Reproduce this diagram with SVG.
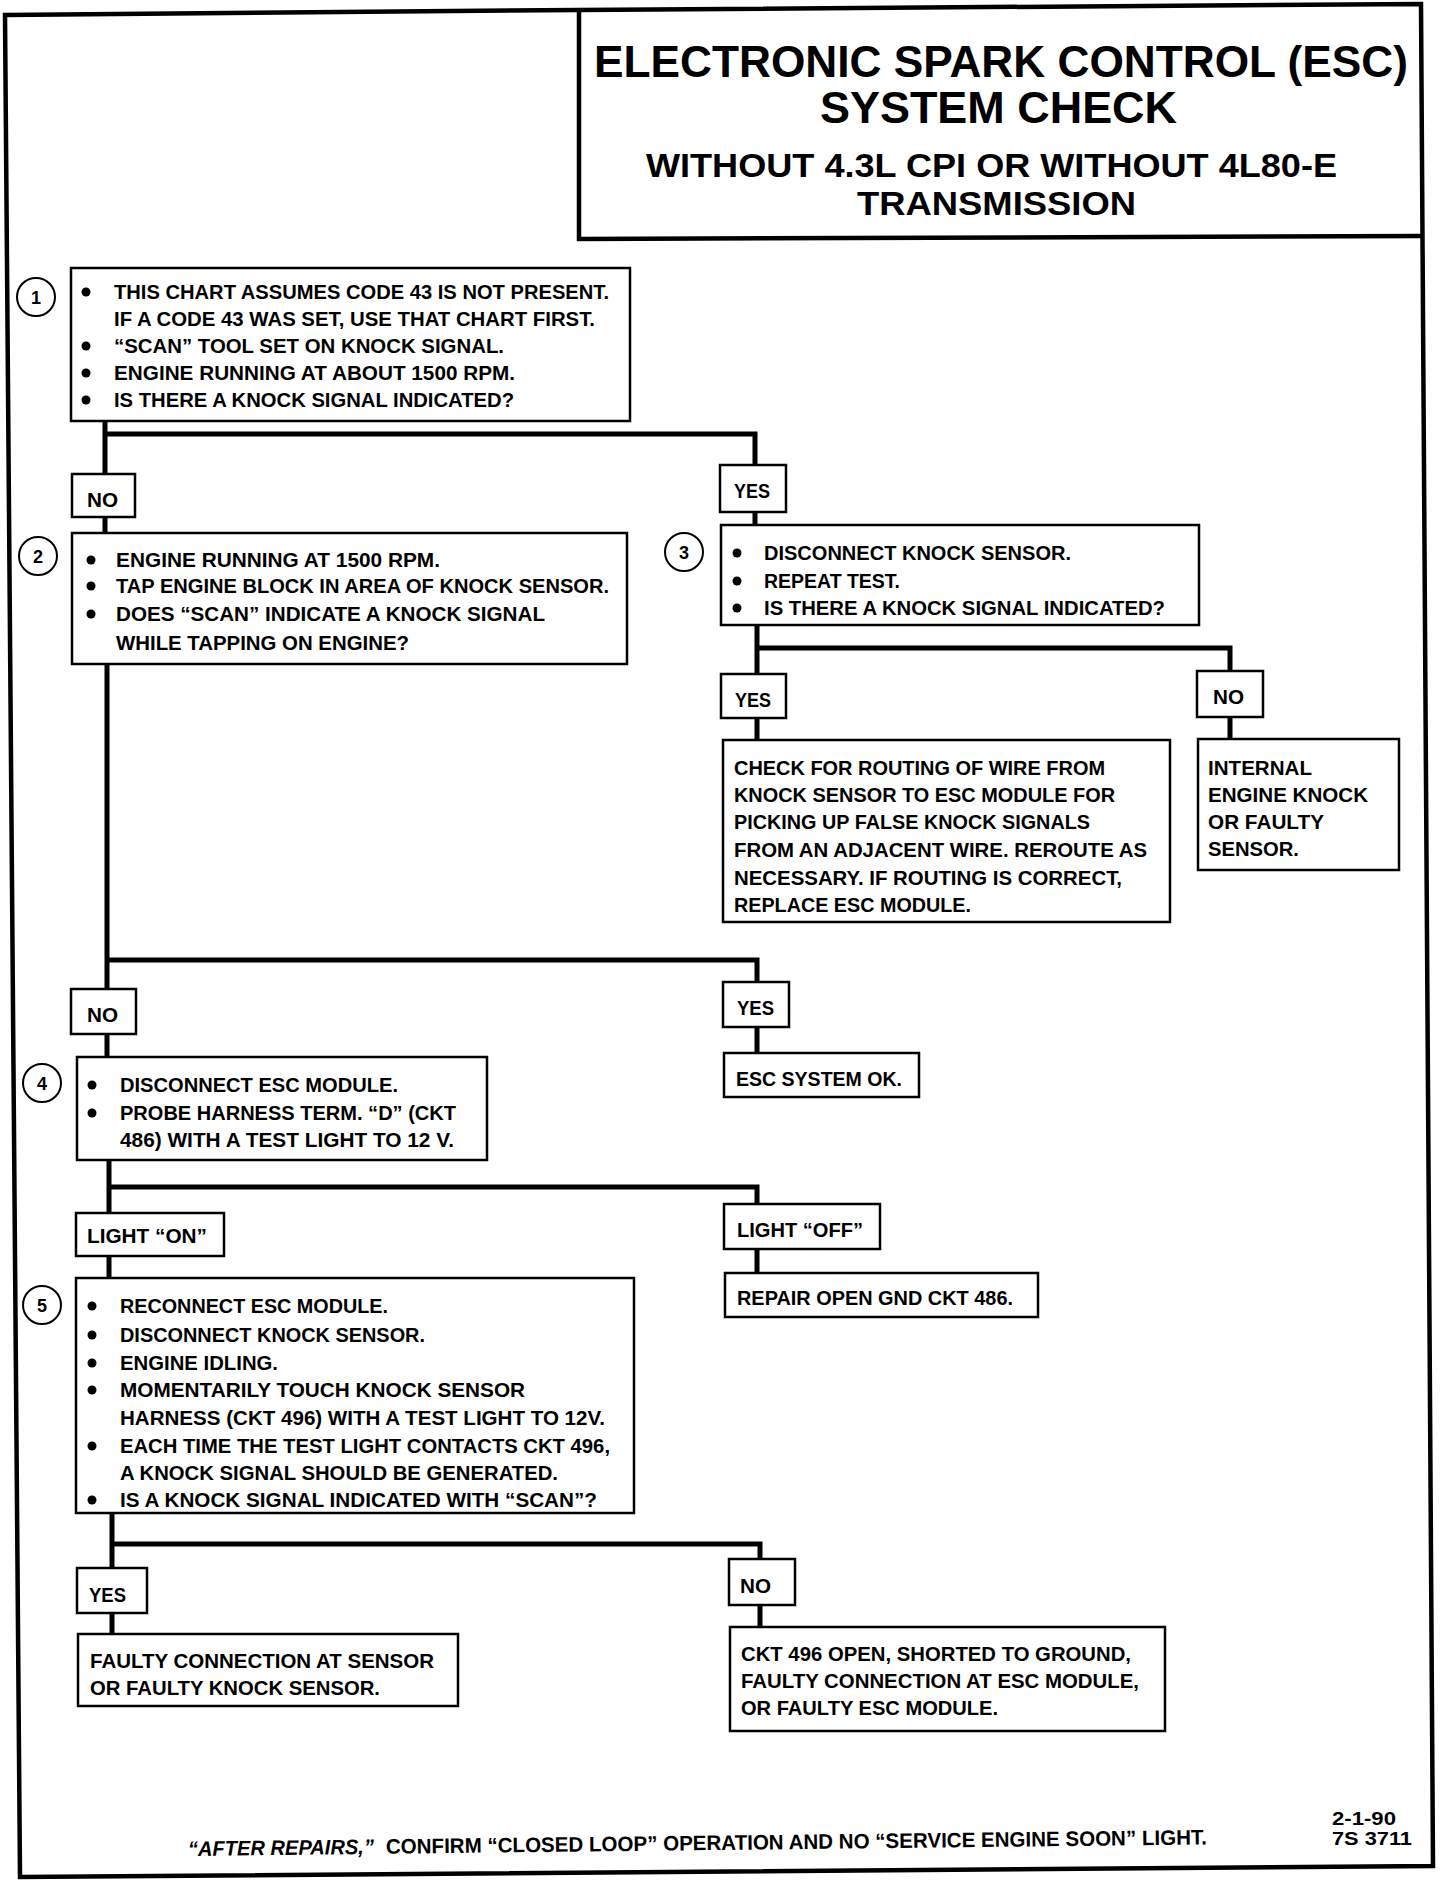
<svg xmlns="http://www.w3.org/2000/svg" width="1456" height="1886" viewBox="0 0 1456 1886">
<style>
.box{fill:#fff;stroke:#000;stroke-width:2.5}
.wire{fill:none;stroke:#000;stroke-width:5;stroke-linejoin:miter}
.frame{fill:none;stroke:#000;stroke-width:4.5;stroke-linejoin:miter}
.t{font-family:"Liberation Sans",Arial,sans-serif;font-weight:bold;font-size:21px;fill:#000}
.h1{font-family:"Liberation Sans",Arial,sans-serif;font-weight:bold;font-size:44px;fill:#000}
.h2{font-family:"Liberation Sans",Arial,sans-serif;font-weight:bold;font-size:34px;fill:#000}
.num{font-family:"Liberation Sans",Arial,sans-serif;font-weight:bold;font-size:18px;fill:#000;text-anchor:middle}
.circ{fill:#fff;stroke:#000;stroke-width:2}
.dot{fill:#000}
</style>
<rect width="1456" height="1886" fill="#fff"/>
<g id="frame">
<path class="frame" d="M5,15 L579,10 L1421,4 L1433,1866 L20,1877 Z"/>
</g>
<g id="title">
<path class="frame" d="M579,10 V239 L1421,236" stroke-width="3"/>
<text class="h1" x="594" y="77" textLength="814" lengthAdjust="spacingAndGlyphs">ELECTRONIC SPARK CONTROL (ESC)</text>
<text class="h1" x="820" y="123" textLength="357" lengthAdjust="spacingAndGlyphs">SYSTEM CHECK</text>
<text class="h2" x="646" y="177" textLength="691" lengthAdjust="spacingAndGlyphs">WITHOUT 4.3L CPI OR WITHOUT 4L80-E</text>
<text class="h2" x="857" y="215" textLength="279" lengthAdjust="spacingAndGlyphs">TRANSMISSION</text>
</g>
<g id="connectors">
<path class="wire" d="M105,420 V476 M105,517 V533 M105,434 H755 V465 M755,512 V525"/>
<path class="wire" d="M757,625 V674 M757,648 H1230 V671 M757,718 V740 M1230,717 V739"/>
<path class="wire" d="M107,664 V989 M107,960 H757 V982 M107,1034 V1057 M757,1027 V1053"/>
<path class="wire" d="M109,1160 V1213 M109,1187 H757 V1204 M109,1256 V1278 M757,1249 V1273"/>
<path class="wire" d="M112,1513 V1568 M112,1544 H760 V1559 M112,1613 V1634 M760,1605 V1627"/>
</g>
<g id="step1">
<circle class="circ" cx="36" cy="297" r="19"/><text class="num" x="36" y="304">1</text>
<rect class="box" x="71" y="268" width="559" height="153"/>
<circle class="dot" cx="86" cy="292" r="4.5"/><circle class="dot" cx="86" cy="346" r="4.5"/><circle class="dot" cx="86" cy="373" r="4.5"/><circle class="dot" cx="86" cy="400" r="4.5"/>
<text class="t" x="114" y="299" textLength="495" lengthAdjust="spacingAndGlyphs">THIS CHART ASSUMES CODE 43 IS NOT PRESENT.</text>
<text class="t" x="114" y="326" textLength="481" lengthAdjust="spacingAndGlyphs">IF A CODE 43 WAS SET, USE THAT CHART FIRST.</text>
<text class="t" x="114" y="353" textLength="390" lengthAdjust="spacingAndGlyphs">“SCAN” TOOL SET ON KNOCK SIGNAL.</text>
<text class="t" x="114" y="380" textLength="401" lengthAdjust="spacingAndGlyphs">ENGINE RUNNING AT ABOUT 1500 RPM.</text>
<text class="t" x="114" y="407" textLength="400" lengthAdjust="spacingAndGlyphs">IS THERE A KNOCK SIGNAL INDICATED?</text>
</g>
<g id="no1">
<rect class="box" x="72" y="474" width="63" height="43"/>
<text class="t" x="87" y="507" textLength="31" lengthAdjust="spacingAndGlyphs">NO</text>
</g>
<g id="yes1">
<rect class="box" x="720" y="465" width="66" height="47"/>
<text class="t" x="734" y="498" textLength="36" lengthAdjust="spacingAndGlyphs">YES</text>
</g>
<g id="step2">
<circle class="circ" cx="38" cy="556" r="19"/><text class="num" x="38" y="563">2</text>
<rect class="box" x="72" y="533" width="555" height="131"/>
<circle class="dot" cx="91" cy="560" r="4.5"/><circle class="dot" cx="91" cy="586" r="4.5"/><circle class="dot" cx="91" cy="614" r="4.5"/>
<text class="t" x="116" y="567" textLength="324" lengthAdjust="spacingAndGlyphs">ENGINE RUNNING AT 1500 RPM.</text>
<text class="t" x="116" y="593" textLength="493" lengthAdjust="spacingAndGlyphs">TAP ENGINE BLOCK IN AREA OF KNOCK SENSOR.</text>
<text class="t" x="116" y="621" textLength="429" lengthAdjust="spacingAndGlyphs">DOES “SCAN” INDICATE A KNOCK SIGNAL</text>
<text class="t" x="116" y="650" textLength="293" lengthAdjust="spacingAndGlyphs">WHILE TAPPING ON ENGINE?</text>
</g>
<g id="step3">
<circle class="circ" cx="684" cy="552" r="19"/><text class="num" x="684" y="559">3</text>
<rect class="box" x="721" y="525" width="478" height="100"/>
<circle class="dot" cx="737" cy="553" r="4.5"/><circle class="dot" cx="737" cy="581" r="4.5"/><circle class="dot" cx="737" cy="608" r="4.5"/>
<text class="t" x="764" y="560" textLength="307" lengthAdjust="spacingAndGlyphs">DISCONNECT KNOCK SENSOR.</text>
<text class="t" x="764" y="588" textLength="136" lengthAdjust="spacingAndGlyphs">REPEAT TEST.</text>
<text class="t" x="764" y="615" textLength="401" lengthAdjust="spacingAndGlyphs">IS THERE A KNOCK SIGNAL INDICATED?</text>
</g>
<g id="yes2">
<rect class="box" x="721" y="674" width="65" height="44"/>
<text class="t" x="735" y="707" textLength="36" lengthAdjust="spacingAndGlyphs">YES</text>
</g>
<g id="no3">
<rect class="box" x="1197" y="671" width="66" height="46"/>
<text class="t" x="1213" y="704" textLength="31" lengthAdjust="spacingAndGlyphs">NO</text>
</g>
<g id="routing">
<rect class="box" x="723" y="740" width="447" height="182"/>
<text class="t" x="734" y="775" textLength="371" lengthAdjust="spacingAndGlyphs">CHECK FOR ROUTING OF WIRE FROM</text>
<text class="t" x="734" y="802" textLength="381" lengthAdjust="spacingAndGlyphs">KNOCK SENSOR TO ESC MODULE FOR</text>
<text class="t" x="734" y="829" textLength="356" lengthAdjust="spacingAndGlyphs">PICKING UP FALSE KNOCK SIGNALS</text>
<text class="t" x="734" y="857" textLength="413" lengthAdjust="spacingAndGlyphs">FROM AN ADJACENT WIRE.  REROUTE AS</text>
<text class="t" x="734" y="885" textLength="388" lengthAdjust="spacingAndGlyphs">NECESSARY.  IF ROUTING IS CORRECT,</text>
<text class="t" x="734" y="912" textLength="237" lengthAdjust="spacingAndGlyphs">REPLACE ESC MODULE.</text>
</g>
<g id="internal">
<rect class="box" x="1198" y="739" width="201" height="131"/>
<text class="t" x="1208" y="775" textLength="104" lengthAdjust="spacingAndGlyphs">INTERNAL</text>
<text class="t" x="1208" y="802" textLength="160" lengthAdjust="spacingAndGlyphs">ENGINE KNOCK</text>
<text class="t" x="1208" y="829" textLength="116" lengthAdjust="spacingAndGlyphs">OR FAULTY</text>
<text class="t" x="1208" y="856" textLength="91" lengthAdjust="spacingAndGlyphs">SENSOR.</text>
</g>
<g id="no2">
<rect class="box" x="71" y="989" width="65" height="45"/>
<text class="t" x="87" y="1022" textLength="31" lengthAdjust="spacingAndGlyphs">NO</text>
</g>
<g id="yes3">
<rect class="box" x="723" y="982" width="66" height="45"/>
<text class="t" x="737" y="1015" textLength="37" lengthAdjust="spacingAndGlyphs">YES</text>
</g>
<g id="escok">
<rect class="box" x="724" y="1053" width="195" height="44"/>
<text class="t" x="736" y="1086" textLength="166" lengthAdjust="spacingAndGlyphs">ESC SYSTEM OK.</text>
</g>
<g id="step4">
<circle class="circ" cx="42" cy="1083" r="19"/><text class="num" x="42" y="1090">4</text>
<rect class="box" x="77" y="1057" width="410" height="103"/>
<circle class="dot" cx="92" cy="1085" r="4.5"/><circle class="dot" cx="92" cy="1113" r="4.5"/>
<text class="t" x="120" y="1092" textLength="278" lengthAdjust="spacingAndGlyphs">DISCONNECT ESC MODULE.</text>
<text class="t" x="120" y="1120" textLength="336" lengthAdjust="spacingAndGlyphs">PROBE HARNESS TERM. “D” (CKT</text>
<text class="t" x="120" y="1147" textLength="334" lengthAdjust="spacingAndGlyphs">486) WITH A TEST LIGHT TO 12 V.</text>
</g>
<g id="lighton">
<rect class="box" x="76" y="1213" width="148" height="43"/>
<text class="t" x="87" y="1243" textLength="120" lengthAdjust="spacingAndGlyphs">LIGHT “ON”</text>
</g>
<g id="lightoff">
<rect class="box" x="724" y="1204" width="156" height="45"/>
<text class="t" x="737" y="1237" textLength="126" lengthAdjust="spacingAndGlyphs">LIGHT “OFF”</text>
</g>
<g id="repair">
<rect class="box" x="725" y="1273" width="313" height="44"/>
<text class="t" x="737" y="1305" textLength="276" lengthAdjust="spacingAndGlyphs">REPAIR OPEN GND CKT 486.</text>
</g>
<g id="step5">
<circle class="circ" cx="42" cy="1305" r="19"/><text class="num" x="42" y="1312">5</text>
<rect class="box" x="76" y="1278" width="558" height="235"/>
<circle class="dot" cx="92" cy="1306" r="4.5"/><circle class="dot" cx="92" cy="1335" r="4.5"/><circle class="dot" cx="92" cy="1363" r="4.5"/><circle class="dot" cx="92" cy="1390" r="4.5"/><circle class="dot" cx="92" cy="1446" r="4.5"/><circle class="dot" cx="92" cy="1500" r="4.5"/>
<text class="t" x="120" y="1313" textLength="268" lengthAdjust="spacingAndGlyphs">RECONNECT ESC MODULE.</text>
<text class="t" x="120" y="1342" textLength="305" lengthAdjust="spacingAndGlyphs">DISCONNECT KNOCK SENSOR.</text>
<text class="t" x="120" y="1370" textLength="158" lengthAdjust="spacingAndGlyphs">ENGINE IDLING.</text>
<text class="t" x="120" y="1397" textLength="405" lengthAdjust="spacingAndGlyphs">MOMENTARILY TOUCH KNOCK SENSOR</text>
<text class="t" x="120" y="1425" textLength="485" lengthAdjust="spacingAndGlyphs">HARNESS (CKT 496) WITH A TEST LIGHT TO 12V.</text>
<text class="t" x="120" y="1453" textLength="490" lengthAdjust="spacingAndGlyphs">EACH TIME THE TEST LIGHT CONTACTS CKT 496,</text>
<text class="t" x="120" y="1480" textLength="438" lengthAdjust="spacingAndGlyphs">A KNOCK SIGNAL SHOULD BE GENERATED.</text>
<text class="t" x="120" y="1507" textLength="477" lengthAdjust="spacingAndGlyphs">IS A KNOCK SIGNAL INDICATED WITH “SCAN”?</text>
</g>
<g id="yes4">
<rect class="box" x="77" y="1568" width="70" height="45"/>
<text class="t" x="89" y="1602" textLength="37" lengthAdjust="spacingAndGlyphs">YES</text>
</g>
<g id="faulty">
<rect class="box" x="78" y="1634" width="380" height="72"/>
<text class="t" x="90" y="1668" textLength="344" lengthAdjust="spacingAndGlyphs">FAULTY CONNECTION AT SENSOR</text>
<text class="t" x="90" y="1695" textLength="290" lengthAdjust="spacingAndGlyphs">OR FAULTY KNOCK SENSOR.</text>
</g>
<g id="no4">
<rect class="box" x="729" y="1559" width="66" height="46"/>
<text class="t" x="740" y="1593" textLength="31" lengthAdjust="spacingAndGlyphs">NO</text>
</g>
<g id="ckt">
<rect class="box" x="730" y="1627" width="435" height="104"/>
<text class="t" x="741" y="1661" textLength="390" lengthAdjust="spacingAndGlyphs">CKT 496 OPEN, SHORTED TO GROUND,</text>
<text class="t" x="741" y="1688" textLength="398" lengthAdjust="spacingAndGlyphs">FAULTY CONNECTION AT ESC MODULE,</text>
<text class="t" x="741" y="1715" textLength="257" lengthAdjust="spacingAndGlyphs">OR FAULTY ESC MODULE.</text>
</g>
<g id="footer">
<g transform="rotate(-0.65 188 1856)">
<text class="t" x="188" y="1856" font-style="italic" textLength="186" lengthAdjust="spacingAndGlyphs">“AFTER REPAIRS,”</text>
<text class="t" x="386" y="1856" textLength="821" lengthAdjust="spacingAndGlyphs">CONFIRM “CLOSED LOOP” OPERATION AND NO “SERVICE ENGINE SOON” LIGHT.</text>
</g>
<text class="t" x="1332" y="1825" textLength="64" lengthAdjust="spacingAndGlyphs" style="font-size:19px">2-1-90</text>
<text class="t" x="1332" y="1845" textLength="80" lengthAdjust="spacingAndGlyphs" style="font-size:19px">7S 3711</text>
</g>
</svg>
